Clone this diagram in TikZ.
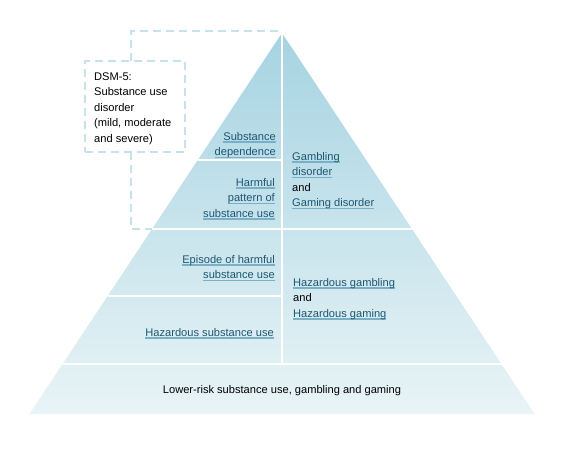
\documentclass[tikz,border=0pt]{standalone}
\usepackage{fontspec}
\setmainfont{Liberation Sans}
\definecolor{topc}{RGB}{166,211,226}
\definecolor{botc}{RGB}{233,244,246}
\definecolor{dashc}{RGB}{198,226,236}
\definecolor{linkc}{RGB}{28,86,112}
\definecolor{ulc}{RGB}{120,176,200}
\newcommand\lnk[1]{\setbox0\hbox{#1}\rlap{\color{ulc}\rule[-2.4pt]{\wd0}{1.4pt}}\box0}
\tikzset{
  lbl/.style={inner sep=0pt, font=\fontsize{11.1}{15.5}\selectfont, text=black},
  lblr/.style={lbl, align=right, anchor=north east},
  lbll/.style={lbl, align=left, anchor=north west},
  sep/.style={draw=white, line width=2.5pt},
  dsh/.style={draw=dashc, line width=2pt, dash pattern=on 8pt off 5pt},
}
\begin{document}
\begin{tikzpicture}[x=1pt,y=-1pt]
\useasboundingbox (0,0) rectangle (569,454);
% pyramid
\coordinate (apex) at (282,33);
\coordinate (bl) at (29.4,414);
\coordinate (br) at (534.6,414);
\shade[top color=topc, bottom color=botc] (apex) -- (br) -- (bl) -- cycle;
% separators
\coordinate (l160) at (197.8,160);
\coordinate (m160) at (282,160);
\coordinate (l229) at (152,229);
\coordinate (r229) at (412,229);
\coordinate (l296) at (107.6,296);
\coordinate (m296) at (282,296);
\coordinate (l364) at (62.5,364);
\coordinate (r364) at (501.5,364);
\coordinate (m364) at (282,364);
\draw[sep] (l160) -- (m160);
\draw[sep] (l229) -- (r229);
\draw[sep] (l296) -- (m296);
\draw[sep] (l364) -- (r364);
\draw[sep] (apex) -- (m364);
% dashed DSM box and bracket
\node[dsh, draw, minimum width=100pt, minimum height=91pt, inner sep=0pt] (dsm) at (135,106.5) {};
\node[lbll] (dsmt) at (94,72.5) {DSM-5:\\Substance use\\disorder\\(mild, moderate\\and severe)};
\coordinate (c1) at (131,31);
\coordinate (c2) at (131,229);
\coordinate (dtop) at (131,61);
\coordinate (dbot) at (131,152);
\coordinate (atop) at (282,31);
\draw[dsh] (dtop) -- (c1) -- (atop);
\draw[dsh] (dbot) -- (c2) -- (l229);
% labels
\node[lblr, text=linkc] (sd) at (276,132) {\lnk{Substance}\\\lnk{dependence}};
\node[lblr, text=linkc] (hp) at (275,178) {\lnk{Harmful}\\\lnk{pattern of}\\\lnk{substance use}};
\node[lblr, text=linkc] (eh) at (275,255) {\lnk{Episode of harmful}\\\lnk{substance use}};
\node[lblr, text=linkc] (hs) at (274,328) {\lnk{Hazardous substance use}};
\node[lbll] (gd) at (292,152) {\textcolor{linkc}{\lnk{Gambling}}\\\textcolor{linkc}{\lnk{disorder}}\\and\\\textcolor{linkc}{\lnk{Gaming disorder}}};
\node[lbll] (hg) at (293,278) {\textcolor{linkc}{\lnk{Hazardous gambling}}\\and\\\textcolor{linkc}{\lnk{Hazardous gaming}}};
\node[lbl, anchor=center] (lr) at (282,391) {Lower-risk substance use, gambling and gaming};
\end{tikzpicture}
\end{document}
